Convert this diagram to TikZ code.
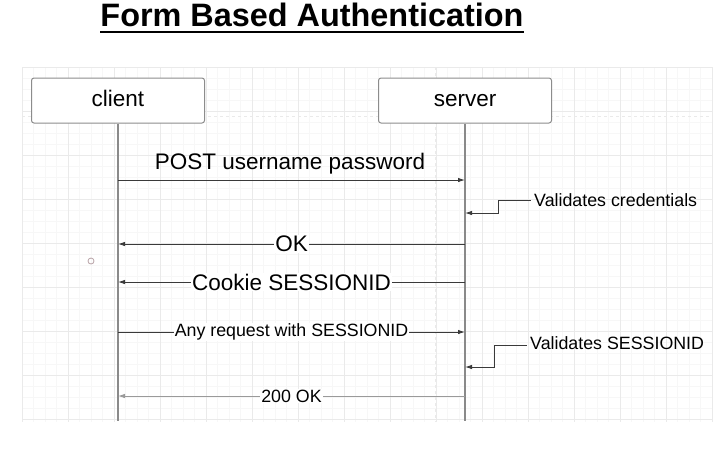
\documentclass[tikz,border=0pt]{standalone}
\usepackage{fontspec}
\setmainfont{Liberation Sans}
\usetikzlibrary{arrows.meta}
\definecolor{gridmaj}{HTML}{EAEAEA}
\definecolor{gridmin}{HTML}{F7F7F7}
\definecolor{boxline}{HTML}{8C8C8C}
\definecolor{lifecol}{HTML}{8A8A8A}
\definecolor{msgline}{HTML}{3A3A3A}
\definecolor{lightmsg}{HTML}{9A9A9A}
\definecolor{dotcol}{HTML}{B8A2A6}
\tikzset{
  actor/.style={draw=boxline, line width=1pt, rounded corners=2.5pt, fill=white,
    minimum width=173pt, minimum height=45pt, inner sep=0pt,
    text height=16.2pt, text depth=5pt,
    font=\fontsize{22.5}{26}\selectfont},
  life/.style={draw=lifecol, line width=1.3pt},
  msg/.style={draw=msgline, line width=0.9pt, -{Latex[length=7pt,width=4.5pt]}},
  biglabel/.style={font=\fontsize{22.5}{26}\selectfont, inner sep=0pt},
  onlabel/.style={fill=white, inner xsep=1pt, inner ysep=1pt},
  smalllabel/.style={font=\fontsize{17.8}{21}\selectfont},
}
\begin{document}
\begin{tikzpicture}[x=1pt,y=-1pt]
\useasboundingbox (0,0) rectangle (719,453);
\fill[white] (0,0) rectangle (719,453);
% background grid
\foreach \i in {0,...,60} \draw[gridmin, line width=0.6pt] ({22+11.5*\i},67) -- ({22+11.5*\i},422);
\foreach \i in {0,...,32} \draw[gridmin, line width=0.6pt] (22,{67+11*\i}) -- (712,{67+11*\i});
\foreach \i in {0,...,15} \draw[gridmaj, line width=0.8pt] ({22+46*\i},67) -- ({22+46*\i},422);
\foreach \i in {0,...,8} \draw[gridmaj, line width=0.8pt] (22,{67+44*\i}) -- (712,{67+44*\i});
\draw[gridmaj, dashed, line width=0.8pt] (22,116) -- (712,116);
\draw[gridmaj, dashed, line width=0.8pt] (435,67) -- (435,422);

% title
\node[font=\bfseries\fontsize{32.4}{38}\selectfont, inner xsep=0pt, inner ysep=5pt, anchor=base] (title) at (312,26) {Form Based Authentication};
\draw[line width=2pt] (title.south west) -- (title.south east);

% actors
\node[actor] (client) at (118,100.5) {client};
\node[actor] (server) at (465,100.5) {server};
\path (client.south) ++(0,297) coordinate (cend);
\path (server.south) ++(0,297) coordinate (send);
\draw[life] (client.south) -- (cend);
\draw[life] (server.south) -- (send);

% message anchors on lifelines
\coordinate (c1) at (118,180); \coordinate (s1) at (465,180);
\coordinate (c2) at (118,244); \coordinate (s2) at (465,244);
\coordinate (c3) at (118,282); \coordinate (s3) at (465,282);
\coordinate (c4) at (118,332); \coordinate (s4) at (465,332);
\coordinate (c5) at (118,396); \coordinate (s5) at (465,396);
\coordinate (sv1) at (465,213);
\coordinate (sv2) at (465,367);

% messages
\draw[msg] (c1) -- (s1);
\node[biglabel, anchor=base] (m1) at (290,169) {POST username password};
\draw[msg] (s2) -- (c2) node[midway, biglabel, onlabel] (m2) {OK};
\draw[msg] (s3) -- (c3) node[midway, biglabel, onlabel] (m3) {Cookie SESSIONID};
\draw[msg] (c4) -- (s4) node[midway, smalllabel, onlabel] (m4) {Any request with SESSIONID};
\draw[msg, draw=lightmsg] (s5) -- (c5) node[midway, smalllabel, onlabel, text=black] (m5) {200 OK};

% self notes
\node[smalllabel, anchor=west] (v1) at (530.7,200) {Validates credentials};
\draw[msg] (v1.west) -- ++(-32,0) |- (sv1);
\node[smalllabel, anchor=west] (v2) at (526.7,343) {Validates SESSIONID};
\draw[msg] (v2.west) ++(0,2) -- ++(-32,0) |- (sv2);

% stray dot
\node[circle, draw=dotcol, line width=0.8pt, minimum size=6pt, inner sep=0pt] (dot) at (91,261) {};
\end{tikzpicture}
\end{document}
